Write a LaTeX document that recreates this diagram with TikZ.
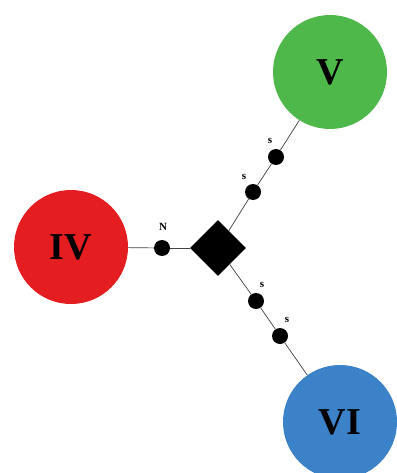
\documentclass[tikz,border=0pt]{standalone}
\usepackage{fontspec}
\setmainfont{Liberation Serif}
\usetikzlibrary{shapes.geometric}
\definecolor{groupred}{RGB}{228,30,32}
\definecolor{groupgreen}{RGB}{78,184,74}
\definecolor{groupblue}{RGB}{60,130,200}
\begin{document}
\begin{tikzpicture}
[x=1pt,y=-1pt,
  groupdecorate/.style={shape=circle,minimum size=114pt,inner sep=0pt,font=\fontsize{38}{38}\selectfont\bfseries},%
  hubdecorate/.style={shape=diamond,fill=black,minimum size=56pt,inner sep=0pt},
  dotdecorate/.style={shape=circle,fill=black,minimum size=16pt,inner sep=0pt},
  tagdecorate/.style={font=\fontsize{11}{11}\selectfont\bfseries,inner sep=0pt},
  linedecorate/.style={draw=black!75,line width=0.7pt}]
\useasboundingbox (0,0) rectangle (396,473);
%% nodes or vertices
\node (IV) at (71,247) [groupdecorate,fill=groupred] {IV};
\node (V) at (330,72) [groupdecorate,fill=groupgreen] {V};
\node (VI) at (340,422) [groupdecorate,fill=groupblue] {VI};
\node (hub) at (218,248) [hubdecorate] {};
\foreach \nodename/\x/\y/\tx/\ty/\tag in {
  n1/162/248/163/227/N, s1/253/192/244/177/s, s2/276/157/270/141/s,
  s3/256/301/262/285/s, s4/280/336/287/320/s} {
  \node (\nodename) at (\x,\y) [dotdecorate] {};
  \node [tagdecorate] at (\tx,\ty) {\tag};
}
%% edges or lines
\path
\foreach \startnode/\endnode in {IV/n1, n1/hub, hub/s1, s1/s2, s2/V,
  hub/s3, s3/s4, s4/VI} {
  (\startnode) edge[linedecorate] (\endnode)
};
\end{tikzpicture}
\end{document}
